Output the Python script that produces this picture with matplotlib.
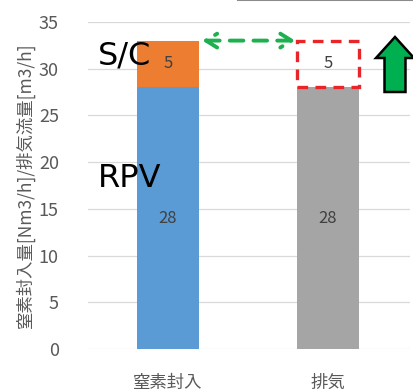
import matplotlib
matplotlib.use("Agg")
import matplotlib.pyplot as plt
from matplotlib.patches import Rectangle, FancyArrow
from matplotlib.lines import Line2D

plt.rcParams['font.family'] = ['Noto Sans CJK JP', 'DejaVu Sans']

categories = ["窒素封入", "排気"]
rpv_values = [28, 28]
sc_values = [5, 5]
y_ticks = [0, 5, 10, 15, 20, 25, 30, 35]
y_label = "窒素封入量[Nm3/h]/排気流量[m3/h]"

blue = "#5B9BD5"
orange = "#ED7D31"
gray = "#A5A5A5"
green = "#00B050"
red = "#E8262A"
tick_gray = "#595959"

fig = plt.figure(figsize=(4.14, 3.91), dpi=100)
ax = fig.add_axes([0.2126, 0.107, 0.7774, 0.837])

x = list(range(len(categories)))
bar_w = 0.39

# lower segment (RPV) for both bars
ax.bar(x[0], rpv_values[0], width=bar_w, color=blue, zorder=2)
ax.bar(x[1], rpv_values[1], width=bar_w, color=gray, zorder=2)
# upper segment (S/C) only on the injection bar; exhaust shown as dashed outline
ax.bar(x[0], sc_values[0], bottom=rpv_values[0], width=bar_w, color=orange, zorder=2)
ax.add_patch(Rectangle((x[1] - bar_w / 2, rpv_values[1]), bar_w, sc_values[1],
                       fill=False, edgecolor=red, linestyle=(0, (3.2, 2.2)),
                       linewidth=2.4, zorder=3))

# value labels
for i in x:
    ax.text(i, rpv_values[i] / 2, str(rpv_values[i]), ha="center", va="center",
            fontsize=12, color="#404040", zorder=4)
    ax.text(i, rpv_values[i] + sc_values[i] / 2, str(sc_values[i]), ha="center",
            va="center", fontsize=12, color="#404040", zorder=4)

# series names
ax.text(-0.44, 31.4, "S/C", fontsize=23, color="black", ha="left", va="center", zorder=5,
        family="DejaVu Sans")
ax.text(-0.44, 18.2, "RPV", fontsize=23, color="black", ha="left", va="center", zorder=5,
        family="DejaVu Sans")

# dashed double arrow between the two tops
top = rpv_values[0] + sc_values[0]
ax.annotate("", xy=(x[1] - bar_w / 2 - 0.01, top), xytext=(x[0] + bar_w / 2 + 0.02, top),
            arrowprops=dict(arrowstyle="<->,head_length=0.8,head_width=0.5",
                            color="#1DB04E", lw=2.8, linestyle=(0, (3.5, 2.6)),
                            shrinkA=0, shrinkB=0), zorder=4)

ax.set_xlim(-0.5, 1.5125)
ax.set_ylim(0, 35)
ax.set_yticks(y_ticks)
ax.set_xticks(x)
ax.set_xticklabels(categories, fontsize=12.5, color=tick_gray)
ax.tick_params(axis="y", labelsize=13, colors=tick_gray, length=0, pad=21)
ax.tick_params(axis="x", length=0, pad=18)
ax.grid(axis="y", color="#D9D9D9", linewidth=0.9, zorder=0)
ax.set_axisbelow(True)
for s in ax.spines.values():
    s.set_visible(False)
ax.set_ylabel(y_label, fontsize=12.5, color=tick_gray)
ax.yaxis.set_label_coords(-0.165, 0.5)

# big green up arrow at the right edge (figure coordinates in pixels)
W, H = 414, 391
fig.patches.append(FancyArrow(395 / W, (H - 92) / H, 0, (92 - 37) / H,
                              width=21 / W, head_width=38 / W, head_length=21 / H,
                              length_includes_head=True, transform=fig.transFigure,
                              facecolor=green, edgecolor="black", linewidth=1.8,
                              figure=fig))

# thin rule at the top edge
fig.add_artist(Line2D([238 / W, 1.0], [0.999, 0.999], color="#8C8C8C", lw=1.5,
                      transform=fig.transFigure))

fig.savefig("out.png", dpi=100)
